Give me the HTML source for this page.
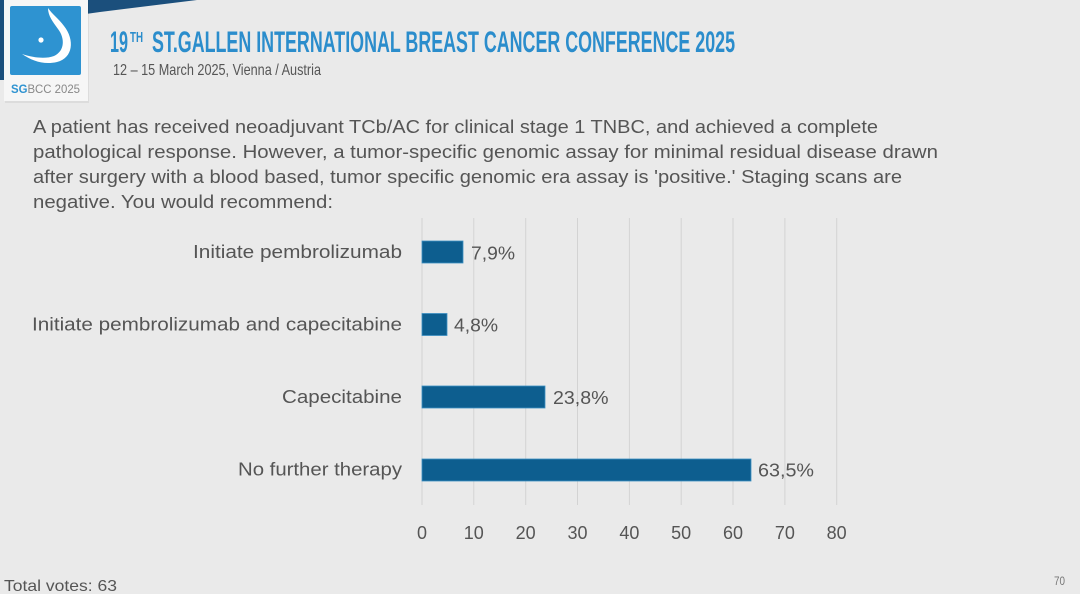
<!DOCTYPE html>
<html>
<head>
<meta charset="utf-8">
<style>
html,body{margin:0;padding:0;background:#eaeaea;}
svg{display:block;}
</style>
</head>
<body>
<svg width="1080" height="594" viewBox="0 0 1080 594" xmlns="http://www.w3.org/2000/svg" xml:space="preserve">
  <rect x="0" y="0" width="1080" height="594" fill="#eaeaea"/>
  <!-- top dark band -->
  <polygon points="0,0 197,0 100,12 0,26" fill="#1b4f7c"/>
  <polygon points="0,0 10,0 10,80 0,80" fill="#1b4f7c"/>
  <!-- logo card -->
  <rect x="4" y="-2" width="84" height="103" fill="#000" opacity="0.06" transform="translate(1,2)"/>
  <rect x="4" y="-2" width="84" height="103" fill="#f6f6f6"/>
  <rect x="10" y="6" width="71" height="69" rx="2" fill="#2e93d1"/>
  <path d="M48,8 C52,14 58,18 64,26 C75,40 73,58 57,62 C44,65 32,61 22,54 C34,58 46,59 54,56 C65,51 65,38 58,29 C53,22 48,16 48,8 Z" fill="#ffffff"/>
  <circle cx="41" cy="40" r="2.6" fill="#ffffff"/>
  <text x="11" y="93" font-family="Liberation Sans, sans-serif" font-size="12" textLength="69" lengthAdjust="spacingAndGlyphs"><tspan fill="#2e93d1" font-weight="bold">SG</tspan><tspan fill="#888">BCC 2025</tspan></text>

  <!-- title -->
  <g font-family="Liberation Sans Narrow, Liberation Sans, sans-serif" font-weight="bold" fill="#2b8dcc">
    <text x="110" y="52" font-size="30" textLength="18" lengthAdjust="spacingAndGlyphs">19</text>
    <text x="130" y="42" font-size="15" textLength="13" lengthAdjust="spacingAndGlyphs">TH</text>
    <text x="152" y="52" font-size="30" textLength="583" lengthAdjust="spacingAndGlyphs">ST.GALLEN INTERNATIONAL BREAST CANCER CONFERENCE 2025</text>
  </g>
  <text x="113" y="75" font-family="Liberation Sans Narrow, Liberation Sans, sans-serif" font-size="16" fill="#555" textLength="208" lengthAdjust="spacingAndGlyphs">12 – 15 March 2025, Vienna / Austria</text>

  <!-- question -->
  <g font-family="Liberation Sans, sans-serif" font-size="18.5" fill="#555">
    <text x="33" y="133" textLength="845" lengthAdjust="spacingAndGlyphs">A patient has received neoadjuvant TCb/AC for clinical stage 1 TNBC, and achieved a complete</text>
    <text x="33" y="158" textLength="905" lengthAdjust="spacingAndGlyphs">pathological response.  However, a tumor-specific genomic assay for minimal residual disease drawn</text>
    <text x="33" y="183" textLength="869" lengthAdjust="spacingAndGlyphs">after surgery with a blood based, tumor specific genomic era assay is 'positive.'  Staging scans are</text>
    <text x="33" y="208" textLength="300" lengthAdjust="spacingAndGlyphs">negative.  You would recommend:</text>
  </g>

  <!-- gridlines -->
  <g stroke="#d3d3d3" stroke-width="1">
    <line x1="422" y1="218" x2="422" y2="505"/>
    <line x1="473.8" y1="218" x2="473.8" y2="505"/>
    <line x1="525.7" y1="218" x2="525.7" y2="505"/>
    <line x1="577.5" y1="218" x2="577.5" y2="505"/>
    <line x1="629.4" y1="218" x2="629.4" y2="505"/>
    <line x1="681.2" y1="218" x2="681.2" y2="505"/>
    <line x1="733" y1="218" x2="733" y2="505"/>
    <line x1="784.9" y1="218" x2="784.9" y2="505"/>
    <line x1="836.7" y1="218" x2="836.7" y2="505"/>
  </g>

  <!-- bars -->
  <g fill="#0d5e8f" stroke="#3c8fc2" stroke-width="0.8">
    <rect x="422" y="241" width="41" height="22"/>
    <rect x="422" y="313.5" width="25" height="22"/>
    <rect x="422" y="386" width="123" height="22"/>
    <rect x="422" y="459" width="329" height="22"/>
  </g>

  <!-- category labels -->
  <g font-family="Liberation Sans, sans-serif" font-size="18.5" fill="#555">
    <text x="193" y="258" textLength="209" lengthAdjust="spacingAndGlyphs">Initiate pembrolizumab</text>
    <text x="32" y="330.5" textLength="370" lengthAdjust="spacingAndGlyphs">Initiate pembrolizumab and capecitabine</text>
    <text x="282" y="403" textLength="120" lengthAdjust="spacingAndGlyphs">Capecitabine</text>
    <text x="238" y="475.5" textLength="164" lengthAdjust="spacingAndGlyphs">No further therapy</text>
  </g>

  <!-- value labels -->
  <g font-family="Liberation Sans, sans-serif" font-size="18.5" fill="#555">
    <text x="471" y="259.5" textLength="44" lengthAdjust="spacingAndGlyphs">7,9%</text>
    <text x="454" y="331.5" textLength="44" lengthAdjust="spacingAndGlyphs">4,8%</text>
    <text x="553" y="404" textLength="55.5" lengthAdjust="spacingAndGlyphs">23,8%</text>
    <text x="758" y="476.5" textLength="56" lengthAdjust="spacingAndGlyphs">63,5%</text>
  </g>

  <!-- ticks -->
  <g font-family="Liberation Sans, sans-serif" font-size="18" fill="#555" text-anchor="middle">
    <text x="422" y="539">0</text>
    <text x="473.8" y="539">10</text>
    <text x="525.7" y="539">20</text>
    <text x="577.5" y="539">30</text>
    <text x="629.4" y="539">40</text>
    <text x="681.2" y="539">50</text>
    <text x="733" y="539">60</text>
    <text x="784.9" y="539">70</text>
    <text x="836.7" y="539">80</text>
  </g>

  <!-- footer -->
  <text x="4" y="591" font-family="Liberation Sans Narrow, Liberation Sans, sans-serif" font-size="16" fill="#555" textLength="113" lengthAdjust="spacingAndGlyphs">Total votes: 63</text>
  <text x="1054" y="585" font-family="Liberation Sans Narrow, Liberation Sans, sans-serif" font-size="12" fill="#777" textLength="11" lengthAdjust="spacingAndGlyphs">70</text>
</svg>
</body>
</html>
